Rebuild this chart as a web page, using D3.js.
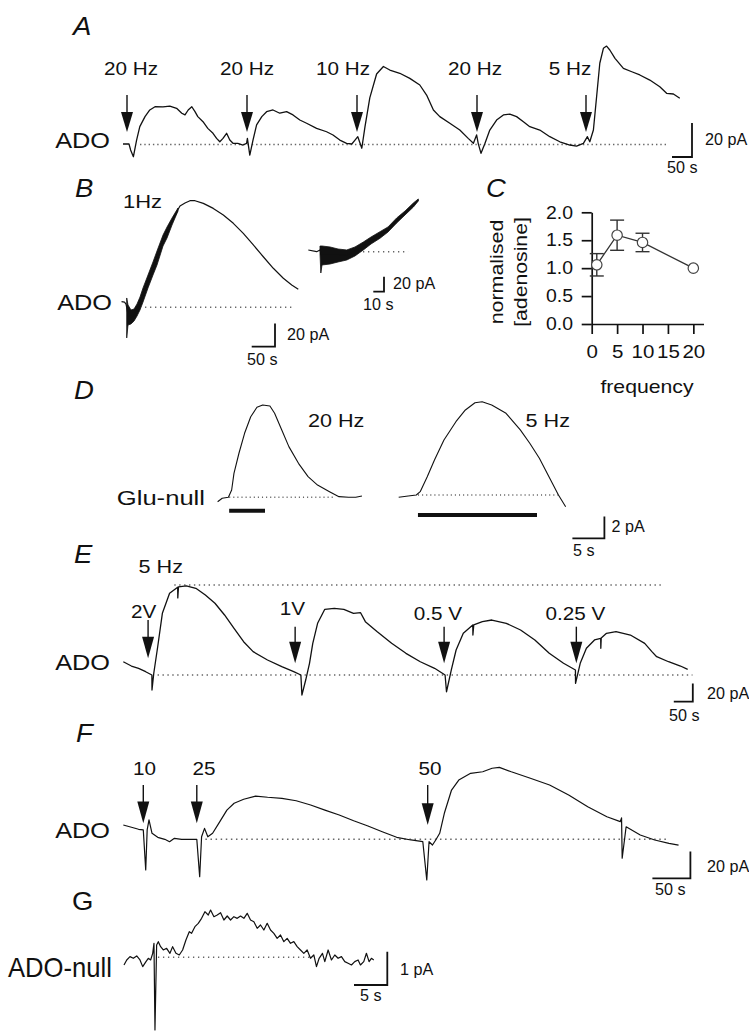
<!DOCTYPE html>
<html>
<head>
<meta charset="utf-8">
<script src="https://cdn.jsdelivr.net/npm/d3@7"></script>
<style>
  body { margin: 0; background: #fff; }
  svg { display: block; }
  text { font-family: "Liberation Sans", Arial, Helvetica, sans-serif; fill: #111; }
</style>
</head>
<body>
<div id="fig"></div>
<script>
// ---- Panel A: ADO sensor current, stimulation at several frequencies ----
const aTime = [0,15,19,26,34,42,55,67,80,100,117,134,147,155,163,172,180,187,200,212,
  225,234,242,250,259,267,275,287,300,309,311,317,325,334,347,359,375,392,409,425,
  442,459,484,509,525,542,559,572,580,587,597,605,617,634,651,667,692,717,742,759,
  776,792,817,842,863,876,884,888,895,905,917,934,951,967,984,1001,1017,1042,1067,1092,
  1117,1134,1151,1161,1167,1176,1184,1192,1201,1209,1217,1230,1251,1272,1292,1317,1342,1359,1376,1392];
const aCurrent = [0.3,0.3,-3.2,-7.2,2.6,10.5,16.4,20.3,22.2,22.1,22.6,21.3,18.4,17.4,20.3,22.2,19.3,16.4,13.4,9.5,
  6.6,3.6,1.6,3.6,6.6,2.6,0.7,0.7,-0.3,0.7,3.6,-6.2,2.6,11.5,16.4,19.3,20.3,18.4,19.3,17.4,
  14.4,12.5,9.5,7.5,5.6,2.6,0.7,0.3,2.6,4.6,-2.2,10.5,27.4,41.5,45.9,43.8,41.9,38.9,35,29.1,
  20.3,16.4,12.5,8.5,3.6,0.7,5.6,0.7,-5.2,0.7,8.5,14.4,17.4,17.9,16.4,13.4,10.5,8.5,4.6,1.6,
  -0.3,-0.9,0.7,4.6,1.6,8.5,28.1,47.8,56.6,57.9,55.6,50.7,44.8,42.8,40.9,37.9,34,30.1,29.7,27.2];
const aStimTime = [10, 310, 585, 885, 1157.5];
const aStimLabel = ["20 Hz", "20 Hz", "10 Hz", "20 Hz", "5 Hz"];
const aBase = [42.5, 1362];

// ---- Panel B: 1 Hz stimulation, main trace and expanded start ----
const bTime = [-1,5.4,8.6,10.1,12.9,19.3,25.8,32.2,38.6,45.1,55.8,66.5,75.1,88.0,96.6,107.3,113.7,120.2,124.4,135.2,
  145.9,156.7,174.5,195.9,217.4,238.9,260.3,281.8,303.2,324.7,346.2,364.2,378.3];
const bCurrent = [4.8,4.5,2.8,0,-6.6,-8.3,-6.7,-2.3,3.3,10.5,22.1,33.3,42.3,57.3,64.2,73.6,78.7,83.9,86.9,89.5,
  91.5,91.5,89.2,84.9,79.2,72.1,63.5,53.5,43.4,33.5,24.9,19.1,15.4];
const bNoiseTime = [10.1,12.9,19.3,25.8,32.2,38.6,45.1,55.8,66.5,75.1,88.0,96.6,107.3,113.7,120.2];
const bNoiseHigh = [8.0,2.0,-2.3,-1.5,2.8,8.8,16.6,27.7,38.9,48.3,62.0,68.9,76.6,80.9,85.2];
const bNoiseLow = [-26.3,-15.2,-14.3,-11.8,-7.5,-2.3,4.5,16.6,27.7,36.3,52.6,59.5,70.6,76.6,82.6];
const bBase = [49.4, 367];

const biTime = [0.3,8.1,11.2,13.1,20.6,28.1,36.2,43.9,51.7,58.9,67.3,74.8,82.9,90.7,98.5,103.1];
const biCurrent = [2.3,0,2.3,-5,-5,-5,-4.4,0.3,7.6,15,22.3,29.7,41.7,51.7,62.3,69];
const biNoiseTime = [11.2,12,13.1,20.6,28.1,36.2,43.9,51.7,58.9,67.3,74.8,82.9,90.7,98.5,103.1];
const biNoiseHigh = [7.6,7.6,7.6,6.3,3.6,2.3,6.3,12.9,19.6,26.7,33.0,45.0,54.3,65.0,70.3];
const biNoiseLow = [-2,-28.4,-17.7,-16.4,-13.7,-11.1,-5.7,2.3,10.3,17.9,26.3,38.3,49.0,59.6,67.6];
const biBase = [51.4, 93.5];

// ---- Panel C: normalised adenosine vs frequency ----
const cFreq = [1, 5, 10, 20];
const cMean = [1.06, 1.59, 1.46, 1.0];
const cSem = [0.2, 0.27, 0.165, 0];
const cTicksY = [0, 0.5, 1.0, 1.5, 2.0];
const cTicksX = [0, 5, 10, 15, 20];

// ---- Panel D: Glu-null sensor ----
const dTime1 = [0.1,0.81,1.78,2.29,2.65,3.43,4.31,5.27,6.24,7.14,8.27,9.0,10.12,11.23,12.73,14.23,15.71,17.58,19.06,20.56,21.68,22.65];
const dCurrent1 = [-0.41,-0.09,0,0.67,2.21,4.06,5.90,7.43,8.30,8.51,8.42,7.74,6.21,4.67,3.13,1.90,1.13,0.52,0.06,0,0,0.12];
const dTime2 = [28.39,29.87,31.14,31.75,32.85,33.98,35.46,37.33,38.81,40.31,41.43,42.92,45.16,47.39,48.87,50.37,51.87,53.35,54.48];
const dCurrent2 = [0,0.12,0.21,0.52,1.90,3.44,5.28,6.97,8.05,8.72,8.81,8.51,7.74,6.21,4.98,3.60,1.90,0.21,-0.87];
const dStimStart = [1.9, 31.4];
const dStimEnd = [7.5, 50.0];
const dStimLabel = ["20 Hz", "5 Hz"];
const dBaseStart = [1.9, 31.4];
const dBaseEnd = [18.3, 53.4];
const dBaseLevel = [0, 0.21];

// ---- Panel E: 5 Hz at decreasing stimulus voltage ----
const eTime = [0.8,22.1,41.0,59.7,76.0,76.3,81.0,91.3,103.6,122.6,143.9,144.2,146,166.5,191.7,216.7,242,267.2,292.2,317.4,
  342.4,380.3,417.9,449.2,468.1,470.8,480.8,490.8,499.4,512.1,531,556,581.2,606.5,625.2,637.8,669.1,706.9,744.6,782.4,
  820,847.6,851.3,864,876.6,895.5,920.5,920.8,923,945.7,970.7,1008.6,1046.2,1083.8,1121.7,1159.3,1190.6,1190.9,1203.2,1219.5,
  1240.8,1257.1,1257.4,1258.5,1272.4,1297.4,1335.2,1372.9,1391.8,1404.4,1435.7,1467,1486];
const eCurrent = [14.5,9.8,7.3,3.6,0,-16.4,1.9,30.9,67.4,89.3,95.9,84.2,96.2,97.3,94.8,87.4,78.4,65.6,51.0,36.4,
  25.5,16.4,9.1,3.6,0,-21.9,-5.5,12.8,34.6,56.5,71.8,72.9,71.8,67.4,68.1,58.3,47.3,34.6,23.7,14.5,
  7.3,0,-18.3,5.5,27.3,45.6,54.7,43.7,54.7,58.3,60.1,56.5,49.2,38.3,23.7,12.8,5.5,-9.1,12.8,29.2,
  38.3,40.1,29.2,40.4,45.6,47.3,43.7,34.6,25.5,20.0,14.5,9.8,6.2];
const eStimTime = [66, 453, 845, 1193];
const eStimLabel = ["2V", "1V", "0.5 V", "0.25 V"];
const eBase = [91, 1498.6];
const ePeakLine = [135, 1417];
const ePeakLevel = 98.4;

// ---- Panel F: 5 Hz, 10 / 25 / 50 pulses ----
const fTime = [0.4,11.1,20.5,26.7,29.9,31.8,34.2,38.2,45.7,55,61.3,67.6,77.1,89.6,97.1,100.9,103.4,107.3,111.6,117.9,
  127.4,136.7,146.2,158.8,174.5,190.3,209.1,227.9,246.9,265.7,284.5,303.5,322.3,341.1,360.1,378.9,394.5,399.7,402.7,407.2,
  411.5,416.7,422.8,432.3,441.8,457.4,473.3,485.7,495.2,510.9,536,561.3,586.4,611.5,636.7,654.3,656,656.8,662,680.6,
  699.6,718.4,731];
const fCurrent = [10.7,9.0,7.5,7.0,-23.0,7.0,14.5,4.5,1.5,0,-1.8,0.7,0,0,0,-28.0,1.9,8.2,1.9,4.5,
  13.2,21.9,27.0,30.0,32.4,31.5,30.7,28.9,25.7,21.9,18.2,13.9,10.0,5.7,1.5,-0.5,-1.8,-30.5,-1.8,-4.3,
  -0.5,4.5,19.5,36.9,44.4,49.4,50.6,53.2,53.9,50.6,45.7,40.7,33.2,24.4,16.9,13.2,16.0,-14.2,9.4,3.2,
  -0.5,-3.0,-4.3];
const fStimTime = [26.7, 97.1, 400.9];
const fStimLabel = ["10", "25", "50"];
const fBase = [108.4, 718.5];

// ---- Panel G: ADO-null sensor ----
const gTime = [0,0.41,0.9,1.4,1.91,2.4,2.81,3.3,3.65,4.0,4.31,4.5,4.65,4.9,5.15,5.5,5.9,6.4,6.9,7.3,
  7.8,8.3,8.8,9.3,9.8,10.15,10.65,11.15,11.65,12.15,12.65,13.0,13.5,14.0,14.5,15.0,15.5,16.0,16.5,17.0,
  17.5,18.0,18.5,19.0,19.5,20.0,20.5,21.0,21.5,22.0,22.5,23.0,23.5,24.0,24.5,25.0,25.5,26.0,26.5,27.0,
  27.5,28.0,28.5,28.9,29.3,29.8,30.15,30.65,31.15,31.65,32.15,32.65,33.15,33.65,34.15,34.65,35.15,35.5,36.0,36.4,
  36.8,37.15,37.5];
const gCurrent = [-0.23,-0.08,0.02,-0.03,0.04,-0.08,-0.28,-0.13,-0.03,-0.08,0.12,0.42,-2.18,0.37,0.47,0.32,0.22,0.27,0.12,0.32,
  0.12,0.07,0.22,0.52,0.77,0.72,0.92,1.02,1.17,1.37,1.27,1.42,1.22,1.27,1.34,1.12,1.24,1.12,1.22,1.17,
  1.24,1.17,1.32,1.12,1.07,0.87,0.97,0.82,1.02,0.82,0.72,0.57,0.67,0.47,0.57,0.42,0.47,0.32,0.22,0.12,
  0.22,-0.03,0.07,-0.28,-0.03,0.12,-0.13,0.22,-0.08,0.07,-0.03,0.02,-0.13,-0.18,-0.23,-0.13,-0.08,-0.23,-0.13,0.12,
  -0.13,-0.03,-0.08];
const gBase = [5.1, 27.9];

// ---------------------------------------------------------------------------

const svg = d3.select('#fig').append('svg')
  .attr('width', 749)
  .attr('height', 1031);

function label(g, x, y, s, o) {
  o = o || {};
  return g.append('text')
    .attr('transform', `translate(${x},${y})` + (o.rotate ? ` rotate(${o.rotate})` : '') + ` scale(${o.sx || 1},1)`)
    .attr('text-anchor', o.anchor || 'start')
    .style('font-size', (o.size || 17) + 'px')
    .style('font-style', o.italic ? 'italic' : null)
    .text(s);
}

function drawTrace(g, xs, ys, t, v, w) {
  const line = d3.line().x(d => xs(d[0])).y(d => ys(d[1]));
  g.append('path')
    .datum(d3.zip(t, v))
    .attr('d', line)
    .attr('fill', 'none')
    .attr('stroke', '#111')
    .attr('stroke-width', w || 1.2)
    .attr('stroke-linejoin', 'round');
}

function drawBand(g, xs, ys, t, hi, lo) {
  const area = d3.area().x(d => xs(d[0])).y0(d => ys(d[2])).y1(d => ys(d[1]));
  g.append('path')
    .datum(d3.zip(t, hi, lo))
    .attr('d', area)
    .attr('fill', '#111')
    .attr('stroke', '#111')
    .attr('stroke-width', 0.8);
}

function dotted(g, xs, ys, t0, t1, level, dash) {
  g.append('line')
    .attr('x1', xs(t0)).attr('x2', xs(t1))
    .attr('y1', ys(level)).attr('y2', ys(level))
    .attr('stroke', '#666')
    .attr('stroke-width', 1.5)
    .attr('stroke-dasharray', dash || '1.4,3');
}

function arrow(g, x, tip, shaft, head) {
  head = head || 21;
  g.append('line')
    .attr('x1', x).attr('x2', x)
    .attr('y1', tip - head - shaft).attr('y2', tip - head + 2)
    .attr('stroke', '#111').attr('stroke-width', 1.4);
  g.append('path')
    .attr('d', `M${x - 6},${tip - head}L${x + 6},${tip - head}L${x},${tip}Z`)
    .attr('fill', '#111');
}

function scaleBar(g, cx, cy, w, h) {
  g.append('path')
    .attr('d', `M${cx - w},${cy}H${cx}V${cy - h}`)
    .attr('fill', 'none')
    .attr('stroke', '#111')
    .attr('stroke-width', 1.8);
}

const panelFont = {size: 25, sx: 1.1, italic: true};
const stimFont = {size: 18, sx: 1.15, anchor: 'middle'};
const barFont = {size: 17, sx: 0.95};
const adoFont = {size: 22, sx: 1.15, anchor: 'end'};

// ---- A ----
const gA = svg.append('g');
const xA = d3.scaleLinear().domain([0, 50]).range([123, 143]);
const yA = d3.scaleLinear().domain([0, 20]).range([144.5, 110.5]);
const aLabelDx = [4, 0, -14, -2, -16];
label(gA, 73, 35, 'A', panelFont);
label(gA, 110, 148, 'ADO', adoFont);
dotted(gA, xA, yA, aBase[0], aBase[1], 0, '1.4,2.9');
drawTrace(gA, xA, yA, aTime, aCurrent, 1.3);
aStimTime.forEach((t, i) => {
  arrow(gA, xA(t), 132, 17, 20);
  label(gA, xA(t) + aLabelDx[i], 75, aStimLabel[i], stimFont);
});
scaleBar(gA, 692, 157, xA(50) - xA(0), yA(0) - yA(20));
label(gA, 705, 144.5, '20 pA', barFont);
label(gA, 667, 173, '50 s', barFont);

// ---- B ----
const gB = svg.append('g');
const xB = d3.scaleLinear().domain([0, 50]).range([122, 145.3]);
const yB = d3.scaleLinear().domain([0, 20]).range([307.3, 284]);
label(gB, 75, 197, 'B', panelFont);
label(gB, 112, 310, 'ADO', adoFont);
label(gB, 123, 208, '1Hz', {size: 18, sx: 1.22});
dotted(gB, xB, yB, bBase[0], bBase[1], 0, '1.3,3.7');
drawBand(gB, xB, yB, bNoiseTime, bNoiseHigh, bNoiseLow);
drawTrace(gB, xB, yB, bTime, bCurrent, 1.2);
scaleBar(gB, 275, 346.7, xB(50) - xB(0), yB(0) - yB(20));
label(gB, 287, 340, '20 pA', barFont);
label(gB, 247, 365, '50 s', barFont);

const xBi = d3.scaleLinear().domain([0, 10]).range([308, 318.7]);
const yBi = d3.scaleLinear().domain([0, 20]).range([251.7, 236.7]);
dotted(gB, xBi, yBi, biBase[0], biBase[1], 0, '1.3,3.7');
drawBand(gB, xBi, yBi, biNoiseTime, biNoiseHigh, biNoiseLow);
drawTrace(gB, xBi, yBi, biTime, biCurrent, 1.2);
scaleBar(gB, 384, 291.7, xBi(10) - xBi(0), yBi(0) - yBi(20));
label(gB, 393, 288.5, '20 pA', barFont);
label(gB, 363, 310, '10 s', barFont);

// ---- C ----
const gC = svg.append('g');
const xC = d3.scaleLinear().domain([0, 22]).range([591.7, 703.5]);
const yC = d3.scaleLinear().domain([0, 2]).range([324, 212.3]);
label(gC, 486, 197, 'C', panelFont);

const axY = gC.append('g')
  .attr('transform', `translate(${xC(0)},0)`)
  .call(d3.axisLeft(yC).tickValues(cTicksY).tickFormat(d3.format('.1f')).tickSize(10).tickSizeOuter(0).tickPadding(8.7));
const axX = gC.append('g')
  .attr('transform', `translate(0,${yC(0)})`)
  .call(d3.axisBottom(xC).tickValues(cTicksX).tickFormat(d3.format('d')).tickSize(10).tickSizeOuter(0).tickPadding(11.5));
[axY, axX].forEach(ax => {
  ax.selectAll('path, line').attr('stroke', '#111').attr('stroke-width', 1.7);
  ax.selectAll('text').style('font-size', '18px').style('font-family', null).attr('fill', '#111');
});
axY.selectAll('text').attr('x', -18.7 / 1.08).attr('transform', 'scale(1.08,1)');
axX.selectAll('text').attr('transform', 'scale(1.14,1)');

label(gC, 503, 272, 'normalised', {size: 18, sx: 1.19, anchor: 'middle', rotate: -90});
label(gC, 527, 272, '[adenosine]', {size: 18, sx: 1.18, anchor: 'middle', rotate: -90});
label(gC, 647, 393, 'frequency', {size: 18, sx: 1.18, anchor: 'middle'});

const cPts = d3.zip(cFreq, cMean, cSem);
cPts.filter(d => d[2] > 0).forEach(d => {
  const x = xC(d[0]);
  const eg = gC.append('g').attr('stroke', '#333').attr('stroke-width', 1.4);
  eg.append('line').attr('x1', x).attr('x2', x).attr('y1', yC(d[1] - d[2])).attr('y2', yC(d[1] + d[2]));
  [d[1] - d[2], d[1] + d[2]].forEach(v => {
    eg.append('line').attr('x1', x - 7).attr('x2', x + 7).attr('y1', yC(v)).attr('y2', yC(v));
  });
});
gC.append('path')
  .datum(cPts)
  .attr('d', d3.line().x(d => xC(d[0])).y(d => yC(d[1])))
  .attr('fill', 'none').attr('stroke', '#333').attr('stroke-width', 1.3);
gC.selectAll('circle.pt')
  .data(cPts)
  .enter().append('circle')
  .attr('class', 'pt')
  .attr('cx', d => xC(d[0])).attr('cy', d => yC(d[1]))
  .attr('r', 5.2)
  .attr('fill', '#fff').attr('stroke', '#444').attr('stroke-width', 1.2);

// ---- D ----
const gD = svg.append('g');
const xD = d3.scaleLinear().domain([0, 5]).range([217, 249]);
const yD = d3.scaleLinear().domain([0, 2]).range([497.3, 475.6]);
const dStimY = [510.7, 515];
const dLabelX = [308, 525.6];
label(gD, 74, 399, 'D', panelFont);
label(gD, 205, 505, 'Glu-null', {size: 21, sx: 1.22, anchor: 'end'});
dStimStart.forEach((s, i) => {
  dotted(gD, xD, yD, dBaseStart[i], dBaseEnd[i], dBaseLevel[i], '1.1,3');
  gD.append('line')
    .attr('x1', xD(s)).attr('x2', xD(dStimEnd[i]))
    .attr('y1', dStimY[i]).attr('y2', dStimY[i])
    .attr('stroke', '#111').attr('stroke-width', 4);
  label(gD, dLabelX[i], 427, dStimLabel[i], {size: 18, sx: 1.2});
});
drawTrace(gD, xD, yD, dTime1, dCurrent1, 1.1);
drawTrace(gD, xD, yD, dTime2, dCurrent2, 1.1);
scaleBar(gD, 604.4, 538.3, xD(5) - xD(0), yD(0) - yD(2));
label(gD, 611.6, 531.5, '2 pA', barFont);
label(gD, 573, 556, '5 s', barFont);

// ---- E ----
const gE = svg.append('g');
const xE = d3.scaleLinear().domain([0, 50]).range([123, 142]);
const yE = d3.scaleLinear().domain([0, 20]).range([675, 656.7]);
const eTip = [658.3, 663.3, 663.3, 663.3];
const eShaft = [16.7, 15, 15, 15];
const eLabelDx = [-4.5, -2.7, -6.3, -1];
const eLabelY = [618, 615, 620, 620];
label(gE, 74, 563, 'E', panelFont);
label(gE, 110, 670, 'ADO', adoFont);
label(gE, 138.6, 573, '5 Hz', {size: 18, sx: 1.2});
dotted(gE, xE, yE, ePeakLine[0], ePeakLine[1], ePeakLevel, '1.4,3.5');
dotted(gE, xE, yE, eBase[0], eBase[1], 0, '1.4,3.5');
drawTrace(gE, xE, yE, eTime, eCurrent, 1.3);
eStimTime.forEach((t, i) => {
  arrow(gE, xE(t), eTip[i], eShaft[i], 21.6);
  label(gE, xE(t) + eLabelDx[i], eLabelY[i], eStimLabel[i], stimFont);
});
scaleBar(gE, 692.8, 701.7, xE(50) - xE(0), yE(0) - yE(20));
label(gE, 707, 698.5, '20 pA', barFont);
label(gE, 669, 721, '50 s', barFont);

// ---- F ----
const gF = svg.append('g');
const xF = d3.scaleLinear().domain([0, 50]).range([123, 161]);
const yF = d3.scaleLinear().domain([0, 20]).range([839.3, 812.6]);
const fTip = [823.3, 823.3, 825];
const fShaft = [16.6, 16.6, 18.3];
const fLabelDx = [1.2, 7.2, 2.4];
label(gF, 76, 742, 'F', panelFont);
label(gF, 110, 838, 'ADO', adoFont);
dotted(gF, xF, yF, fBase[0], fBase[1], 0, '1.5,3.6');
drawTrace(gF, xF, yF, fTime, fCurrent, 1.2);
fStimTime.forEach((t, i) => {
  arrow(gF, xF(t), fTip[i], fShaft[i], 21.7);
  label(gF, xF(t) + fLabelDx[i], 775, fStimLabel[i], stimFont);
});
scaleBar(gF, 690.4, 878.3, xF(50) - xF(0), yF(0) - yF(20));
label(gF, 707, 871.5, '20 pA', barFont);
label(gF, 655, 895, '50 s', barFont);

// ---- G ----
const gG = svg.append('g');
const xG = d3.scaleLinear().domain([0, 5]).range([124, 157.3]);
const yG = d3.scaleLinear().domain([0, 1]).range([957.3, 924]);
label(gG, 72, 910, 'G', {size: 25, sx: 1.1});
label(gG, 112, 977, 'ADO-null', {size: 27, sx: 0.95, anchor: 'end'});
dotted(gG, xG, yG, gBase[0], gBase[1], 0, '1.3,3.7');
drawTrace(gG, xG, yG, gTime, gCurrent, 1.2);
scaleBar(gG, 387.3, 985, xG(5) - xG(0), yG(0) - yG(1));
label(gG, 400, 974.5, '1 pA', barFont);
label(gG, 360, 1001, '5 s', barFont);
</script>
</body>
</html>
